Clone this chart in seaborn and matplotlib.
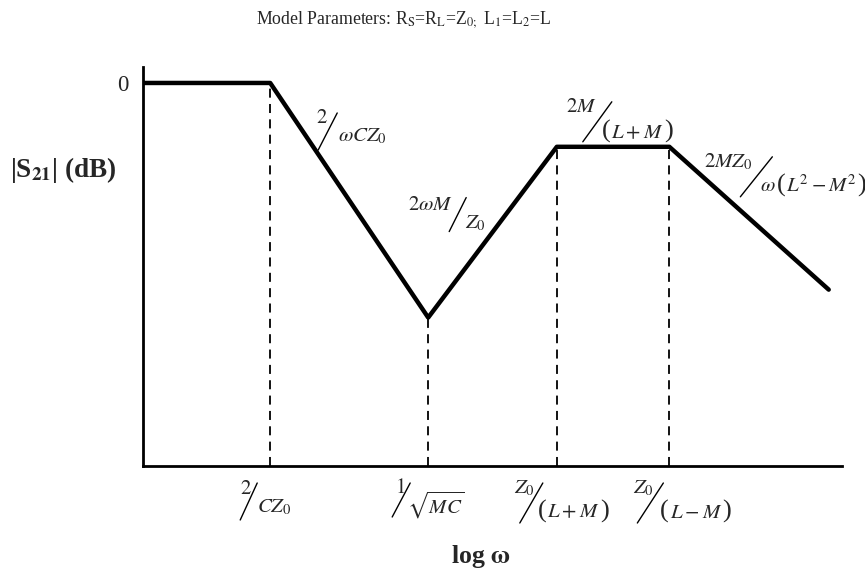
#! /usr/bin/env python3
import matplotlib
matplotlib.use('Agg')
import matplotlib.pyplot as plt
from matplotlib.lines import Line2D
from matplotlib.transforms import IdentityTransform
import seaborn as sns

# corner points of the asymptotic |S21| curve (x = log w, arbitrary decades; y in dB)
log_w = [0, 1.82, 4.08, 5.92, 7.53, 9.81]
s21_db = [0, 0, -29.4, -8.0, -8.0, -25.9]
# corners that get a dashed drop line and a label under the axis
corner_idx = [1, 2, 3, 4]

FS = 15      # fraction text size
PFS = 19     # size of the tall brackets


def paren(inner, pre=None):
    # denominator with tall brackets, built from pieces
    parts = [] if pre is None else [(pre, FS)]
    return parts + [('(', PFS), ('$' + inner + '$', FS), (')', PFS)]


# x-axis labels (numerator, denominator) for each corner
corner_labels = [
    (r'$\mathit{2}$', r'$CZ_{\mathit{0}}$'),
    (r'$\mathit{1}$', r'$\sqrt{MC}$'),
    (r'$Z_{0}$', paren(r'L+M')),
    (r'$Z_{0}$', paren(r'L-M')),
]
# slope / level labels along the curve, anchored to curve points
curve_labels = [
    (1, r'$\mathit{2}$', r'$\omega CZ_{\mathit{0}}$'),
    (2, r'$\mathit{2}\omega M$', r'$Z_{\mathit{0}}$'),
    (3, r'$\mathit{2}M$', paren(r'L+M')),
    (4, r'$\mathit{2}MZ_{\mathit{0}}$', paren(r'L^2-M^2', pre=r'$\omega$')),
]

# layout of the slashed fractions, in pixels:
# slash centre offset (right, down), slash (w, h), numerator (right edge, down), denominator (left edge, down)
corner_pos = [
    ((-21.5, 35.5), (17, 37), (3.5, -12.5), (8.5, 6)),
    ((-27, 34), (18, 34), (4, -11.5), (6, 5)),
    ((-25.5, 37), (23, 40), (3.5, -14.5), (6.5, 8)),
    ((-19, 37), (26, 40), (3, -14.5), (10, 8)),
]
curve_pos = [
    ((57.5, 48.5), (19, 37), (0.5, -12.5), (10, 5)),
    ((29.5, -103), (17, 34), (-4.5, -9.5), (7.5, 8.5)),
    ((40.5, -25), (29, 40), (-0.5, -14.5), (4.5, 9.5)),
    ((87, 30), (32, 40), (-4, -15), (4, 8)),
]

sns.set_style('white')
plt.rcParams['font.family'] = ['Liberation Serif', 'DejaVu Serif']
plt.rcParams['mathtext.fontset'] = 'stix'

fig = plt.figure(figsize=(8.65, 5.76), dpi=100)
ax = fig.add_axes([143 / 865, 110 / 576, 699 / 865, 399 / 576])

# dashed drop lines from each corner down to the axis
ax.vlines([log_w[i] for i in corner_idx], -48, [s21_db[i] for i in corner_idx],
          colors='black', linestyles=(0, (5, 3.5)), linewidth=1.3, zorder=1)

# the curve itself
sns.lineplot(x=log_w, y=s21_db, ax=ax, color='black', linewidth=3.2,
             sort=False, estimator=None, zorder=3)

ax.set_xlim(0, 10)
ax.set_ylim(-48, 2)
ax.set_xticks([])
ax.set_yticks([0])
ax.set_yticklabels(['0'], fontsize=16.5)
ax.tick_params(axis='y', length=0, pad=10.5)
for side in ['top', 'right']:
    ax.spines[side].set_visible(False)
for side in ['left', 'bottom']:
    ax.spines[side].set_linewidth(2)
    ax.spines[side].set_color('black')

ax.set_ylabel(r'|S$_\mathbf{21}$| (dB)', rotation=0, fontsize=19.5, fontweight='bold',
              ha='center', va='center')
ax.yaxis.set_label_coords(-0.114, 0.742)
ax.set_xlabel(r'log $\mathbf{\omega}$', fontsize=18.5, fontweight='bold', va='center')
ax.xaxis.set_label_coords(0.4835, -0.2256)

fig.text(404 / 865, 1 - 20 / 576,
         r'Model Parameters: R$_\mathrm{S}$=R$_\mathrm{L}$=Z$_\mathrm{0;}$ L$_\mathrm{1}$=L$_\mathrm{2}$=L',
         ha='center', va='center', fontsize=12.8)

renderer = fig.canvas.get_renderer()


def slash_label(anchor, num, den, pos):
    (ox, oy), (w, h), (nx, ny), (dx, dy) = pos
    px, py = ax.transData.transform(anchor)
    cx, cy = px + ox, py - oy
    fig.add_artist(Line2D([cx - w / 2, cx + w / 2], [cy - h / 2, cy + h / 2],
                          transform=IdentityTransform(), color='black', linewidth=1.0))
    fig.text(cx + nx, cy - ny, num, transform=IdentityTransform(),
             ha='right', va='center', fontsize=FS)
    if isinstance(den, str):
        fig.text(cx + dx, cy - dy, den, transform=IdentityTransform(),
                 ha='left', va='center', fontsize=FS)
        return
    # piecewise denominator on a shared baseline
    x = cx + dx
    base = cy - dy - 6.5
    for s, fs in den:
        t = fig.text(x, base, s, transform=IdentityTransform(),
                     ha='left', va='baseline', fontsize=fs)
        x = t.get_window_extent(renderer).x1 + 0.5


for i, (num, den), pos in zip(corner_idx, corner_labels, corner_pos):
    slash_label((log_w[i], -48), num, den, pos)
for (i, num, den), pos in zip(curve_labels, curve_pos):
    slash_label((log_w[i], s21_db[i]), num, den, pos)

fig.savefig('out.png', dpi=100)
